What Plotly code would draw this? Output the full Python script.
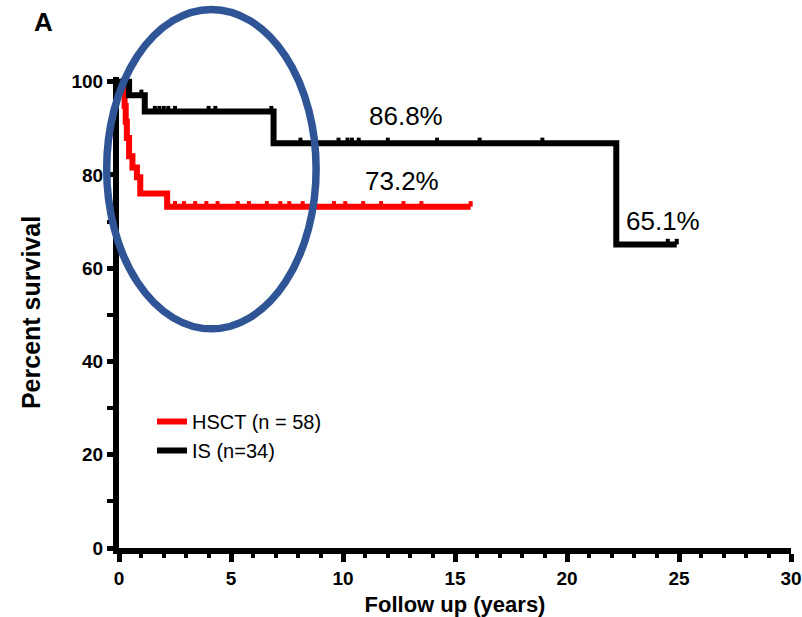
import plotly.graph_objects as go
import numpy as np

# ---- Data ----
hsct_times = [0, 0.15, 0.25, 0.30, 0.35, 0.45, 0.60, 0.80, 0.95, 2.15, 15.7]
hsct_surv = [100, 98.3, 94.8, 91.4, 87.9, 84.0, 81.6, 79.5, 76.0, 73.2, 73.2]
hsct_censor = [2.5, 2.9, 3.4, 3.9, 4.4, 5.3, 5.8, 6.6, 7.2, 7.6, 8.2, 9.6,
               10.1, 10.9, 11.7, 12.7, 13.5, 15.7]

is_times = [0, 0.45, 1.15, 6.9, 22.2, 24.9]
is_surv = [100, 97.1, 93.6, 86.8, 65.1, 65.1]
is_censor = [1.0, 1.6, 1.8, 2.0, 2.2, 2.5, 4.0, 4.3, 6.8, 8.1, 9.8, 10.2,
             10.4, 10.7, 12.0, 14.2, 16.1, 18.9, 24.5, 24.9]

hsct_label = "HSCT (n = 58)"
is_label = "IS (n=34)"
annot_text = ["86.8%", "73.2%", "65.1%"]
annot_x = [12.8, 12.65, 24.3]
annot_y = [92.6, 78.7, 70.1]

x_tick_vals = [0, 5, 10, 15, 20, 25, 30]
y_tick_vals = [0, 20, 40, 60, 80, 100]

RED = "#FF0000"
BLACK = "#000000"
BLUE = "#2F5597"
FONT = "Arial, 'Liberation Sans', sans-serif"


def step_value(times, surv, t):
    idx = np.searchsorted(np.array(times), t, side="right") - 1
    return surv[max(idx, 0)]


fig = go.Figure()

# Curves
fig.add_trace(go.Scatter(x=hsct_times, y=hsct_surv, mode="lines",
                         line=dict(color=RED, width=6, shape="hv"),
                         name=hsct_label))
fig.add_trace(go.Scatter(x=is_times, y=is_surv, mode="lines",
                         line=dict(color=BLACK, width=6, shape="hv"),
                         name=is_label))

# Censor ticks
off = 0.6
fig.add_trace(go.Scatter(
    x=hsct_censor, y=[step_value(hsct_times, hsct_surv, t) + off for t in hsct_censor],
    mode="markers", showlegend=False, hoverinfo="skip",
    marker=dict(symbol="line-ns", size=4, line=dict(color=RED, width=4))))
fig.add_trace(go.Scatter(
    x=is_censor, y=[step_value(is_times, is_surv, t) + off for t in is_censor],
    mode="markers", showlegend=False, hoverinfo="skip",
    marker=dict(symbol="line-ns", size=4, line=dict(color=BLACK, width=4))))

W, H = 802, 617
ml = 119
mt = 77
mr = W - 791
mb = H - 548
pw, ph = W - ml - mr, H - mt - mb
x_range = [0, 30]
y_range = [0, 101]

for txt, ax_, ay_ in zip(annot_text, annot_x, annot_y):
    fig.add_annotation(x=ax_, y=ay_, text=txt, showarrow=False,
                       font=dict(family=FONT, size=26, color="black"),
                       xanchor="center", yanchor="middle")


def px_to_paper_x(px):
    return (px - ml) / pw


def px_to_paper_y(py):
    return (H - mb - py) / ph


# Panel letter
fig.add_annotation(x=px_to_paper_x(43), y=px_to_paper_y(22), xref="paper", yref="paper",
                   text="<b>A</b>", showarrow=False, xanchor="center", yanchor="middle",
                   font=dict(family=FONT, size=26, color="black"))

# Highlight ellipse (defined in data units, converted to paper)
ell_x = [-0.55, 8.8]
ell_y = [47.0, 115.5]


def xp(v):
    return (v - x_range[0]) / (x_range[1] - x_range[0])


def yp(v):
    return (v - y_range[0]) / (y_range[1] - y_range[0])


fig.add_shape(type="circle", xref="paper", yref="paper",
              x0=xp(ell_x[0]), x1=xp(ell_x[1]), y0=yp(ell_y[0]), y1=yp(ell_y[1]),
              line=dict(color=BLUE, width=7.5), layer="above")

fig.update_layout(
    width=W, height=H,
    margin=dict(l=ml, r=mr, t=mt, b=mb, pad=0, autoexpand=False),
    paper_bgcolor="white", plot_bgcolor="white",
    font=dict(family=FONT, color="black"),
    showlegend=True,
    legend=dict(x=px_to_paper_x(152), y=px_to_paper_y(402), xanchor="left", yanchor="top",
                bgcolor="rgba(0,0,0,0)", font=dict(family=FONT, size=20),
                tracegroupgap=0, itemwidth=30),
    xaxis=dict(range=x_range, tickvals=x_tick_vals, showgrid=False, zeroline=False,
               automargin=False,
               showline=True, linecolor="black", linewidth=6,
               ticks="outside", ticklen=8, tickwidth=5, tickcolor="black",
               ticklabeloverflow="allow",
               tickfont=dict(family=FONT, size=19, color="black", weight="bold"),
               minor=dict(dtick=1, ticks="outside", ticklen=4, tickwidth=4, tickcolor="black"),
               title=dict(text="<b>Follow up (years)</b>", font=dict(family=FONT, size=22),
                          standoff=12)),
    yaxis=dict(range=y_range, tickvals=y_tick_vals, showgrid=False, zeroline=False,
               automargin=False,
               showline=True, linecolor="black", linewidth=6,
               ticks="outside", ticklen=6, tickwidth=5, tickcolor="black",
               ticklabeloverflow="allow",
               tickfont=dict(family=FONT, size=19, color="black", weight="bold"),
               minor=dict(dtick=10, ticks="outside", ticklen=6, tickwidth=4, tickcolor="black"),
               title=dict(text="<b>Percent survival</b>", font=dict(family=FONT, size=25),
                          standoff=26)),
)

# Remove the browser's default 8px body margin so the figure fills the window exactly.
fig.write_html("out.html", config={"displayModeBar": False},
               post_script="document.body.style.margin='0';document.body.style.overflow='hidden';")
